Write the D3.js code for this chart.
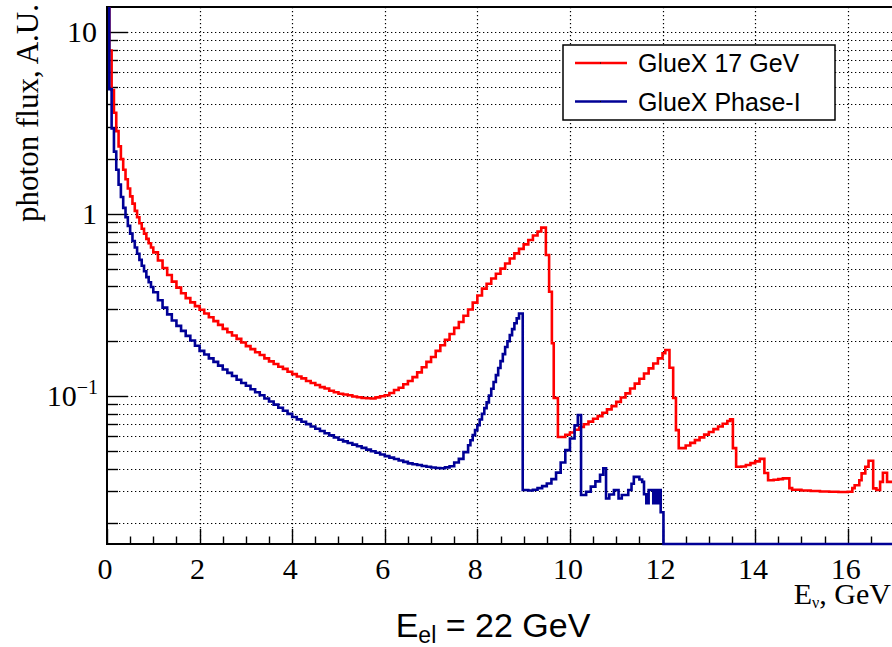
<!DOCTYPE html>
<html>
<head>
<meta charset="utf-8">
<script src="https://cdn.jsdelivr.net/npm/d3@7"></script>
<style>
  body { margin: 0; background: #fff; }
  svg { display: block; }
</style>
</head>
<body>
<div id="chart"></div>
<script>
// photon flux histograms, [bin low edge (GeV), flux (A.U.)]
var redFlux = [
  [0,14],[0.05,7.9],[0.1,4.8],[0.15,3.6],[0.2,2.85],[0.25,2.35],[0.3,2.0],[0.35,1.75],[0.4,1.55],[0.45,1.38],
  [0.5,1.25],[0.55,1.14],[0.6,1.04],[0.65,0.96],[0.7,0.89],[0.75,0.83],[0.8,0.78],[0.85,0.73],[0.9,0.69],[0.95,0.655],
  [1.0,0.615],[1.1,0.555],[1.2,0.505],[1.3,0.462],[1.4,0.425],[1.5,0.394],[1.6,0.367],[1.7,0.345],[1.8,0.327],[1.9,0.312],
  [2.0,0.298],[2.1,0.284],[2.2,0.271],[2.3,0.258],[2.4,0.246],[2.5,0.234],[2.6,0.224],[2.7,0.215],[2.8,0.206],[2.9,0.197],
  [3.0,0.188],[3.1,0.181],[3.2,0.174],[3.3,0.168],[3.4,0.161],[3.5,0.155],[3.6,0.150],[3.7,0.145],[3.8,0.141],[3.9,0.136],
  [4.0,0.132],[4.1,0.128],[4.2,0.125],[4.3,0.121],[4.4,0.118],[4.5,0.115],[4.6,0.112],[4.7,0.110],[4.8,0.107],[4.9,0.105],
  [5.0,0.103],[5.1,0.102],[5.2,0.101],[5.3,0.0995],[5.4,0.0986],[5.5,0.0975],[5.6,0.0973],[5.7,0.097],[5.8,0.0984],[5.9,0.0998],
  [6.0,0.101],[6.1,0.104],[6.2,0.108],[6.3,0.111],[6.4,0.116],[6.5,0.121],[6.6,0.127],[6.7,0.135],[6.8,0.144],[6.9,0.154],
  [7.0,0.164],[7.1,0.177],[7.2,0.190],[7.3,0.204],[7.4,0.219],[7.5,0.237],[7.6,0.255],[7.7,0.276],[7.8,0.299],[7.9,0.326],
  [8.0,0.357],[8.1,0.389],[8.2,0.414],[8.3,0.442],[8.4,0.470],[8.5,0.501],[8.6,0.535],[8.7,0.570],[8.8,0.608],[8.9,0.643],
  [9.0,0.681],[9.1,0.719],[9.2,0.762],[9.3,0.802],[9.38,0.842],[9.48,0.595],[9.55,0.374],[9.61,0.195],[9.65,0.0975],[9.74,0.0596],
  [9.9,0.0613],[10.0,0.0631],[10.1,0.0653],[10.2,0.0676],[10.3,0.070],[10.4,0.0724],[10.5,0.075],[10.6,0.0776],[10.7,0.0809],[10.8,0.0845],
  [10.9,0.0881],[11.0,0.0929],[11.1,0.0982],[11.2,0.1035],[11.3,0.110],[11.4,0.117],[11.5,0.1245],[11.6,0.133],[11.7,0.142],[11.8,0.151],
  [11.9,0.161],[12.0,0.172],[12.06,0.179],[12.15,0.143],[12.23,0.0975],[12.29,0.065],[12.35,0.0518],
  [12.5,0.0535],[12.6,0.0553],[12.7,0.0573],[12.8,0.0593],[12.9,0.0614],[13.0,0.0635],[13.1,0.0658],[13.2,0.0681],[13.3,0.0705],[13.4,0.0729],
  [13.46,0.0745],[13.52,0.0518],[13.59,0.0409],[13.7,0.041],[13.8,0.0418],[13.9,0.0428],[14.0,0.0438],[14.1,0.0452],
  [14.2,0.0378],[14.28,0.0345],[14.4,0.0347],[14.5,0.035],[14.6,0.0353],[14.74,0.0312],[14.8,0.0306],
  [15.0,0.0303],[15.2,0.0301],[15.4,0.0299],[15.6,0.0298],[15.8,0.0297],[16.0,0.0298],[16.1,0.0312],[16.15,0.0324],[16.25,0.0345],
  [16.3,0.0376],[16.38,0.0409],[16.45,0.0441],[16.55,0.0311],[16.62,0.0305],[16.7,0.0338],[16.76,0.0379],[16.85,0.0338],[17,0.0338]
];

var blueFlux = [
  [0,40],[0.05,4.85],[0.1,2.95],[0.15,2.2],[0.2,1.75],[0.25,1.45],[0.3,1.24],[0.35,1.08],[0.4,0.96],[0.45,0.86],
  [0.5,0.78],[0.55,0.71],[0.6,0.655],[0.65,0.605],[0.7,0.56],[0.75,0.52],[0.8,0.485],[0.85,0.45],[0.9,0.422],[0.95,0.397],
  [1.0,0.372],[1.1,0.336],[1.2,0.306],[1.3,0.281],[1.4,0.260],[1.5,0.243],[1.6,0.228],[1.7,0.214],[1.8,0.202],[1.9,0.189],
  [2.0,0.177],[2.1,0.169],[2.2,0.161],[2.3,0.154],[2.4,0.147],[2.5,0.140],[2.6,0.134],[2.7,0.129],[2.8,0.123],[2.9,0.118],
  [3.0,0.114],[3.1,0.109],[3.2,0.105],[3.3,0.101],[3.4,0.097],[3.5,0.0933],[3.6,0.0897],[3.7,0.0863],[3.8,0.083],[3.9,0.0798],
  [4.0,0.0767],[4.1,0.0745],[4.2,0.0723],[4.3,0.0701],[4.4,0.0681],[4.5,0.0661],[4.6,0.0643],[4.7,0.0625],[4.8,0.0608],[4.9,0.0592],
  [5.0,0.0575],[5.1,0.0564],[5.2,0.0552],[5.3,0.0541],[5.4,0.053],[5.5,0.0519],[5.6,0.0508],[5.7,0.0498],[5.8,0.0488],[5.9,0.0478],
  [6.0,0.0468],[6.1,0.0459],[6.2,0.0451],[6.3,0.0443],[6.4,0.0435],[6.5,0.0427],[6.6,0.0422],[6.7,0.0418],[6.8,0.0413],[6.9,0.0409],
  [7.0,0.0405],[7.1,0.0403],[7.2,0.0401],[7.3,0.0406],[7.4,0.0412],[7.5,0.0432],[7.6,0.0452],[7.7,0.0492],[7.8,0.0537],[7.85,0.0572],
  [7.9,0.061],[7.95,0.065],[8.0,0.0692],[8.05,0.0743],[8.1,0.0798],[8.15,0.0858],[8.2,0.0923],[8.25,0.1005],[8.3,0.1096],[8.35,0.1195],
  [8.4,0.1303],[8.45,0.1425],[8.5,0.1556],[8.55,0.170],[8.6,0.186],[8.65,0.200],[8.7,0.216],[8.75,0.233],[8.8,0.251],[8.85,0.267],
  [8.9,0.284],[8.98,0.0305],[9.1,0.0303],[9.2,0.0306],[9.3,0.0312],[9.4,0.032],[9.5,0.0331],[9.6,0.035],[9.7,0.038],[9.8,0.0432],
  [9.9,0.0505],[10.0,0.0585],[10.1,0.069],[10.17,0.0787],[10.24,0.0286],[10.35,0.0298],[10.45,0.0318],[10.55,0.034],[10.65,0.037],[10.72,0.0401],
  [10.78,0.0274],[10.85,0.0288],[10.95,0.0305],[11.05,0.0274],[11.12,0.0286],[11.26,0.0305],[11.33,0.033],[11.38,0.036],[11.5,0.0348],[11.56,0.0338],
  [11.6,0.0289],[11.65,0.0258],[11.7,0.0305],[11.8,0.0258],[11.84,0.0305],[11.88,0.0258],[11.92,0.0305],[11.96,0.023],[12.02,0],[17,0]
];

var seriesNames = ["GlueX 17 GeV", "GlueX Phase-I"];
var seriesColors = ["#ff0000", "#000096"];
var xTickValues = [0, 2, 4, 6, 8, 10, 12, 14, 16];
var yLabelValues = [0.1, 1, 10];

var W = 892, H = 647;
var padL = 107, padT = 7, padR = 894, padB = 544;

var x = d3.scaleLinear().domain([0, 17]).range([padL, padR]);
var y = d3.scaleLog().domain([0.0154, 13.7]).range([padB, padT]);

var svg = d3.select("#chart").append("svg").attr("width", W).attr("height", H);

// ticks for the log axis: 1..9 x decade
var yTicks = [];
[-2, -1, 0, 1].forEach(function(p){
  for (var m = 1; m <= 9; m++) {
    var v = m * Math.pow(10, p);
    if (v >= y.domain()[0] && v <= y.domain()[1]) yTicks.push({v: v, major: m == 1});
  }
});
var xMinor = d3.range(0.5, 17, 0.5).filter(function(d){ return d % 2 != 0; });

function px(v){ return Math.round(v) + 0.5; }

// grid
var grid = svg.append("g").attr("class", "grid")
  .attr("stroke", "#000").attr("stroke-width", 1.2).attr("stroke-dasharray", "1.3,2.7");
grid.selectAll("line.gy").data(yTicks).enter().append("line")
  .attr("x1", padL).attr("x2", padR)
  .attr("y1", function(d){ return px(y(d.v)); })
  .attr("y2", function(d){ return px(y(d.v)); });
grid.selectAll("line.gx").data(xTickValues.filter(function(d){ return d > 0; })).enter().append("line")
  .attr("y1", padT).attr("y2", padB)
  .attr("x1", function(d){ return px(x(d)); })
  .attr("x2", function(d){ return px(x(d)); });

// ticks inside the frame
var ticks = svg.append("g").attr("stroke", "#000").attr("stroke-width", 1.4);
ticks.selectAll("line.ty").data(yTicks).enter().append("line")
  .attr("x1", padL).attr("x2", function(d){ return padL + (d.major ? 21 : 11); })
  .attr("y1", function(d){ return px(y(d.v)); })
  .attr("y2", function(d){ return px(y(d.v)); });
ticks.selectAll("line.tx").data(xTickValues).enter().append("line")
  .attr("y1", padB).attr("y2", padB - 15)
  .attr("x1", function(d){ return px(x(d)); })
  .attr("x2", function(d){ return px(x(d)); });
ticks.selectAll("line.tm").data(xMinor).enter().append("line")
  .attr("y1", padB).attr("y2", padB - 7.5)
  .attr("x1", function(d){ return px(x(d)); })
  .attr("x2", function(d){ return px(x(d)); });

// frame
svg.append("rect").attr("x", padL).attr("y", padT)
  .attr("width", padR - padL).attr("height", padB - padT)
  .attr("fill", "none").attr("stroke", "#000").attr("stroke-width", 2);

// histograms
svg.append("clipPath").attr("id", "plotclip").append("rect")
  .attr("x", padL).attr("y", padT).attr("width", padR - padL).attr("height", padB - padT + 2);

var line = d3.line()
  .x(function(d){ return x(d[0]); })
  .y(function(d){ return d[1] > 0 ? y(Math.min(d[1], 100)) : padB; })
  .curve(d3.curveStepAfter);

var curves = svg.append("g").attr("clip-path", "url(#plotclip)");
[redFlux, blueFlux].forEach(function(data, i){
  curves.append("path").datum(data)
    .attr("d", line)
    .attr("fill", "none")
    .attr("stroke", seriesColors[i])
    .attr("stroke-width", 2.6)
    .attr("stroke-linejoin", "miter");
});

// axis labels
var serif = "'Liberation Serif', 'Times New Roman', serif";
var sans = "'Liberation Sans', Arial, Helvetica, sans-serif";

svg.append("g").selectAll("text").data(xTickValues).enter().append("text")
  .attr("x", function(d){ return x(d) - 2; })
  .attr("y", padB + 35)
  .attr("text-anchor", "middle")
  .attr("font-family", serif).attr("font-size", 30)
  .text(function(d){ return d; });

var yl = svg.append("g").selectAll("text").data(yLabelValues).enter().append("text")
  .attr("x", function(d){ return d == 0.1 ? padL - 9 : padL - 10; })
  .attr("y", function(d){ return y(d) + 10; })
  .attr("text-anchor", "end")
  .attr("font-family", serif).attr("font-size", 30);
yl.each(function(d){
  var t = d3.select(this);
  if (d == 0.1) {
    t.append("tspan").text("10");
    t.append("tspan").attr("dy", -12).attr("font-size", 20).text("\u22121");
  } else {
    t.text(d);
  }
});

svg.append("text")
  .attr("transform", "translate(38," + (padT - 3) + ") rotate(-90)")
  .attr("text-anchor", "end")
  .attr("font-family", serif).attr("font-size", 31)
  .text("photon flux, A.U.");

var xt = svg.append("text")
  .attr("x", 891).attr("y", 604)
  .attr("text-anchor", "end")
  .attr("font-family", serif).attr("font-size", 30);
xt.append("tspan").text("E");
xt.append("tspan").attr("font-size", 16).attr("dy", 4).text("\u03bd");
xt.append("tspan").attr("dy", -4).text(", GeV");

var title = svg.append("text")
  .attr("x", 493).attr("y", 637)
  .attr("text-anchor", "middle")
  .attr("font-family", sans).attr("font-size", 34);
title.append("tspan").text("E");
title.append("tspan").attr("font-size", 23).attr("dy", 6).text("el");
title.append("tspan").attr("dy", -6).text(" = 22 GeV");

// legend
var lg = svg.append("g").attr("transform", "translate(563,45)");
lg.append("rect").attr("width", 272).attr("height", 75)
  .attr("fill", "#fff").attr("stroke", "#000").attr("stroke-width", 1.5);
seriesNames.forEach(function(name, i){
  var ly = 18 + i * 38.5;
  lg.append("line").attr("x1", 12).attr("x2", 64).attr("y1", ly).attr("y2", ly)
    .attr("stroke", seriesColors[i]).attr("stroke-width", 2.6);
  lg.append("rect").attr("x", 37).attr("y", ly - 0.5).attr("width", 1).attr("height", 1).attr("fill", "#000");
  lg.append("text").attr("x", 75).attr("y", ly + 9)
    .attr("font-family", sans).attr("font-size", 25)
    .text(name);
});
</script>
</body>
</html>
